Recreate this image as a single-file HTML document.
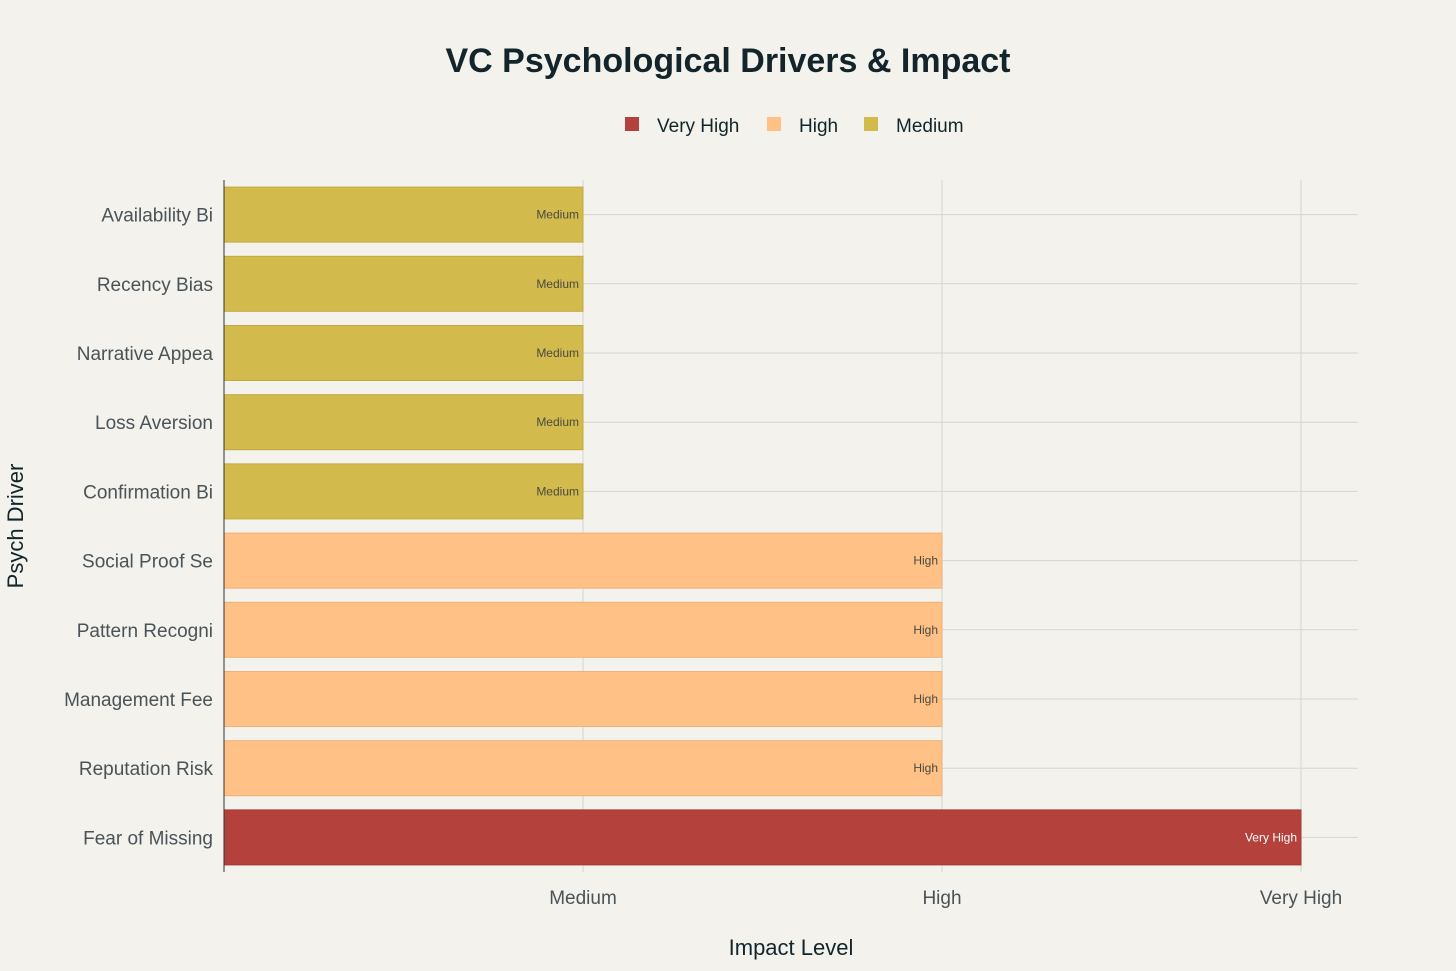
<!DOCTYPE html>
<html><head><meta charset="utf-8"><style>
body{margin:0;background:#f3f2ec;font-family:"Liberation Sans",sans-serif;}
svg{display:block}
</style></head><body>
<svg id="chart" width="1456" height="971">
<rect width="1456" height="971" fill="#f3f2ec"/>
<text x="728" y="72" text-anchor="middle" font-size="34" font-weight="bold" fill="#13252b">VC Psychological Drivers &amp; Impact</text>
<g>
<g><rect x="625" y="117" width="14" height="14" fill="#b4413c"/><text x="657" y="132" font-size="19" fill="#13252b">Very High</text></g>
<g><rect x="767" y="117" width="14" height="14" fill="#ffc185"/><text x="799" y="132" font-size="19" fill="#13252b">High</text></g>
<g><rect x="864" y="117" width="14" height="14" fill="#d2ba4c"/><text x="896" y="132" font-size="19" fill="#13252b">Medium</text></g>
</g>
<g id="grid"></g><g id="bars"></g><g id="axes"></g>
<text x="791" y="955" text-anchor="middle" font-size="22" fill="#13252b">Impact Level</text>
<text transform="translate(23,526) rotate(-90)" text-anchor="middle" font-size="22" fill="#13252b">Psych Driver</text>
</svg>
<script>
const categories=["Availability Bi","Recency Bias","Narrative Appea","Loss Aversion","Confirmation Bi","Social Proof Se","Pattern Recogni","Management Fee","Reputation Risk","Fear of Missing"];
const values=[1,1,1,1,1,2,2,2,2,3];
const levelNames=["","Medium","High","Very High"];
const tickValues=[1,2,3];
const colors={1:"#d2ba4c",2:"#ffc185",3:"#b4413c"};
const NS="http://www.w3.org/2000/svg";
const x0=224,x1=1358,pxPer=359,yTop=180,yBot=872;
const xs=v=>x0+v*pxPer;
const band=(yBot-yTop)/categories.length;
const yc=i=>yTop+band*(i+0.5);
function mk(t,a,p){const e=document.createElementNS(NS,t);for(const k in a)e.setAttribute(k,a[k]);p.appendChild(e);return e;}
const g=document.getElementById('grid'),b=document.getElementById('bars'),ax=document.getElementById('axes');
categories.forEach((c,i)=>{
 const l=mk('line',{x1:x0,x2:x1,y1:yc(i),y2:yc(i),stroke:"#d6d6d0","stroke-width":1},g);
 
 
});
tickValues.forEach(v=>{
 const l=mk('line',{x1:xs(v),x2:xs(v),y1:yTop,y2:yBot,stroke:"#d6d6d0","stroke-width":1},g);
 
 
 const t=mk('text',{x:xs(v),y:904,"text-anchor":"middle","font-size":19,fill:"#4a5358"},ax);
 t.textContent=levelNames[v];
 
 
});
categories.forEach((c,i)=>{
 const v=values[i],h=55;
 const r=mk('rect',{x:x0,y:yc(i)-h/2,width:xs(v)-x0,height:h,fill:colors[v],stroke:v==3?"#a53a35":(v==2?"#efb079":"#c2aa42"),"stroke-width":1},b);
 
 
 const t=mk('text',{x:xs(v)-4,y:yc(i)+4,"text-anchor":"end","font-size":12,fill:v==3?"#ffffff":"#4a4a40"},b);
 t.textContent=levelNames[v];
 
 
 const y=mk('text',{x:213,y:yc(i)+7,"text-anchor":"end","font-size":19,fill:"#4a5358"},ax);
 y.textContent=c;
 
 
});
const al=mk('line',{x1:x0,x2:x0,y1:yTop,y2:yBot,stroke:"#333","stroke-width":1},ax);


</script>
</body></html>
